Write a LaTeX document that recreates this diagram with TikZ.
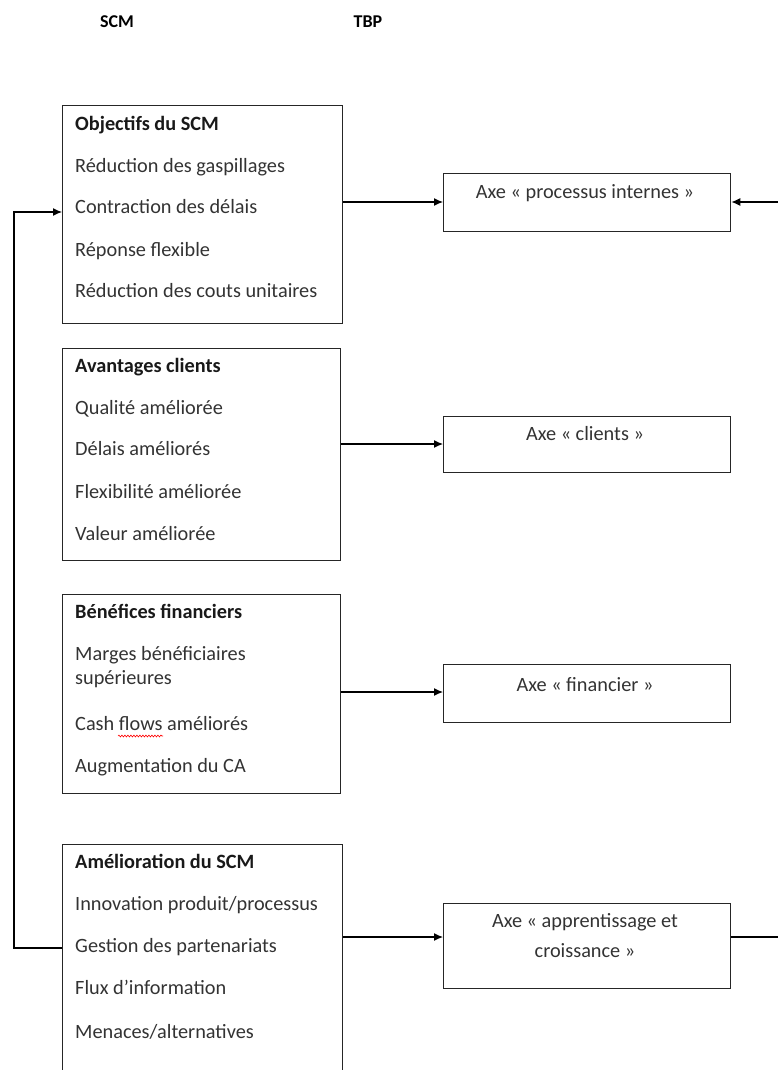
\documentclass[tikz,border=0pt]{standalone}
\usepackage{fontspec}
\setmainfont{Carlito}
\usetikzlibrary{arrows.meta,decorations.pathmorphing}
\begin{document}
\begin{tikzpicture}[x=1pt,y=-1pt,
  box/.style={draw=black!85,line width=1.3pt,inner sep=0pt,anchor=north west},
  item/.style={anchor=mid west,inner sep=0pt,font=\fontsize{20.3}{24}\selectfont,text=black!80},
  head/.style={item,font=\fontsize{20.3}{24}\selectfont\bfseries,text=black!90},
  axe/.style={anchor=mid,inner sep=0pt,align=center,font=\fontsize{20.3}{30}\selectfont,text=black!80},
  title/.style={anchor=mid,inner sep=0pt,font=\fontsize{18}{20}\selectfont\bfseries},
  conn/.style={line width=1.2pt,draw=black},
  arr/.style={conn,-{Latex[length=9pt,width=8pt]}}]
\useasboundingbox (0,0) rectangle (777,1070);

\node[title] (tscm) at (117,25) {SCM};
\node[title] (ttbp) at (368,25) {TBP};

% left boxes
\node[box,minimum width=280pt,minimum height=218pt] (b1) at (62,105) {};
\node[box,minimum width=278pt,minimum height=212pt] (b2) at (62,348) {};
\node[box,minimum width=278pt,minimum height=199pt] (b3) at (62,594) {};
\node[box,minimum width=280pt,minimum height=230pt] (b4) at (62,844) {};

\node[head] (h1) at (75,128) {Objectifs du SCM};
\node[item] (i11) at (75,170) {Réduction des gaspillages};
\node[item] (i12) at (75,211) {Contraction des délais};
\node[item] (i13) at (75,254) {Réponse flexible};
\node[item] (i14) at (75,295) {Réduction des couts unitaires};

\node[head] (h2) at (75,370) {Avantages clients};
\node[item] (i21) at (75,412) {Qualité améliorée};
\node[item] (i22) at (75,453) {Délais améliorés};
\node[item] (i23) at (75,496) {Flexibilité améliorée};
\node[item] (i24) at (75,538) {Valeur améliorée};

\node[head] (h3) at (75,616) {Bénéfices financiers};
\node[item] (i31) at (75,658) {Marges bénéficiaires};
\node[item] (i32) at (75,682) {supérieures};
\node[item] (i33) at (75,728) {Cash flows améliorés};
\node[item] (i34) at (75,770) {Augmentation du CA};
\coordinate (sq1) at (118,736);
\coordinate (sq2) at (163,736);
\draw[red,line width=0.6pt,decorate,decoration={snake,amplitude=0.9pt,segment length=3pt}] (sq1) -- (sq2);

\node[head] (h4) at (75,866) {Amélioration du SCM};
\node[item] (i41) at (75,908) {Innovation produit/processus};
\node[item] (i42) at (75,950) {Gestion des partenariats};
\node[item] (i43) at (75,992) {Flux d’information};
\node[item] (i44) at (75,1036) {Menaces/alternatives};

% right boxes
\node[box,minimum width=287pt,minimum height=58pt] (a1) at (443,173) {};
\node[box,minimum width=287pt,minimum height=56pt] (a2) at (443,416) {};
\node[box,minimum width=287pt,minimum height=58pt] (a3) at (443,664) {};
\node[box,minimum width=287pt,minimum height=85pt] (a4) at (443,903) {};

\node[axe] (t1) at (585,196) {Axe « processus internes »};
\node[axe] (t2) at (585,438) {Axe « clients »};
\node[axe] (t3) at (585,689) {Axe « financier »};
\node[axe] (t4) at (585,925) {Axe « apprentissage et};
\node[axe] (t5) at (585,955) {croissance »};

% connectors
\draw[arr] (b1.east |- 0,202) -- (a1.west |- 0,202);
\draw[arr] (b2.east |- 0,444) -- (a2.west |- 0,444);
\draw[arr] (b3.east |- 0,692) -- (a3.west |- 0,692);
\draw[arr] (b4.east |- 0,937) -- (a4.west |- 0,937);

\coordinate (rin) at (778,202);
\coordinate (rout) at (778,937);
\draw[arr] (rin) -- (a1.east |- rin);
\draw[conn] (a4.east |- rout) -- (rout);

\coordinate (lb) at (14,948);
\coordinate (lt) at (14,212);
\draw[arr] (b4.west |- lb) -- (lb) -- (lt) -- (b1.west |- lt);
\end{tikzpicture}
\end{document}
